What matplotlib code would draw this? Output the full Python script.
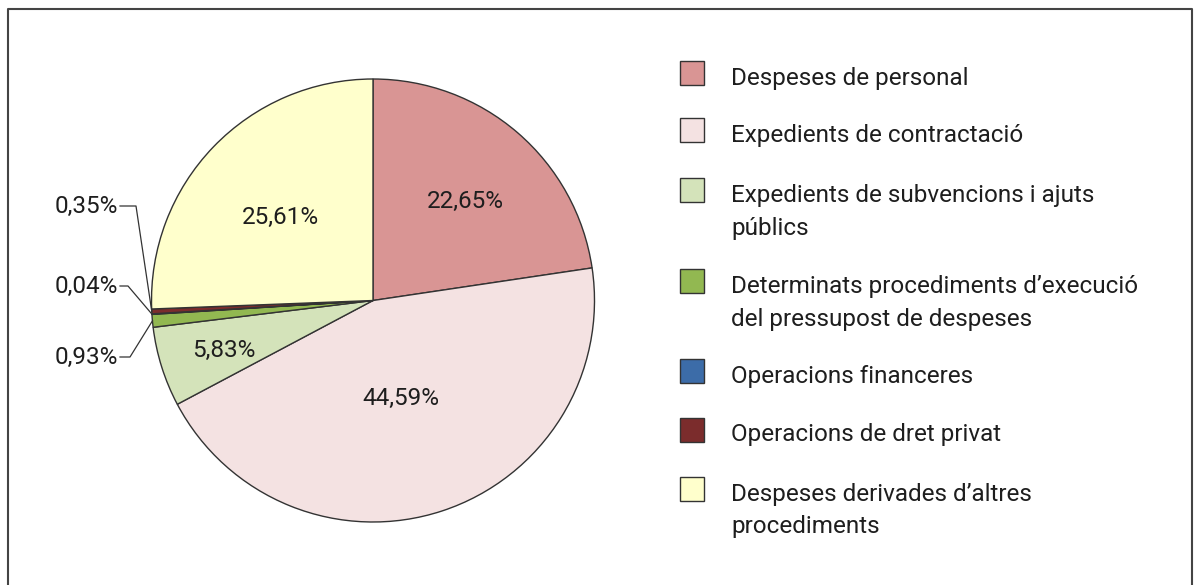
import matplotlib
matplotlib.use("Agg")
import matplotlib.pyplot as plt
from matplotlib.patches import Rectangle
from matplotlib.lines import Line2D
import numpy as np

categories = [
    "Despeses de personal",
    "Expedients de contractació",
    "Expedients de subvencions i ajuts\npúblics",
    "Determinats procediments d’execució\ndel pressupost de despeses",
    "Operacions financeres",
    "Operacions de dret privat",
    "Despeses derivades d’altres\nprocediments",
]
values = [22.65, 44.59, 5.83, 0.93, 0.04, 0.35, 25.61]
value_labels = ["22,65%", "44,59%", "5,83%", "0,93%", "0,04%", "0,35%", "25,61%"]
colors = ["#D99594", "#F4E2E2", "#D4E3BA", "#92B851", "#3C6CA8", "#7B2C2C", "#FFFFCC"]

plt.rcParams['font.family'] = ['Roboto', 'DejaVu Sans']
FS = 17.5
TXT = "#1e1e1e"
FW = 'normal'

W, H = 1200, 585
fig = plt.figure(figsize=(12, 5.85), dpi=100)
ax = fig.add_axes([0, 0, 1, 1])

cx, cy, R = 373, H - 300.5, 221.5
wedges, _ = ax.pie(values, colors=colors, startangle=90, counterclock=False,
                   center=(cx, cy), radius=R, frame=True,
                   wedgeprops=dict(edgecolor="#333333", linewidth=1.0))
ax.set_xlim(0, W)
ax.set_ylim(0, H)
ax.set_aspect('equal')
ax.axis('off')

# inside label positions (px from top-left)
inside = {0: (465, 201.5), 1: (400.5, 398), 2: (224, 350), 6: (280, 217.5)}
for i, (lx, ly) in inside.items():
    ax.text(lx, H - ly, value_labels[i], ha='center', va='center',
            fontsize=FS, color=TXT, fontweight=FW)

# outside labels with leader lines: (index, text y (px from top), elbow x)
outside = [(5, 206, 136), (4, 286, 128), (3, 357, 130)]
for i, ty, ex in outside:
    w = wedges[i]
    ang = np.deg2rad((w.theta1 + w.theta2) / 2)
    px, py = cx + R * np.cos(ang), cy + R * np.sin(ang)
    y = H - ty
    ax.add_line(Line2D([120, ex, px], [y, y, py], color="#333333", lw=0.9))
    ax.text(118, y, value_labels[i], ha='right', va='center', fontsize=FS,
            color=TXT, fontweight=FW)

# legend
leg_y = [73, 130, 190, 281, 371, 429.5, 488.5]
for c, lab, yy in zip(colors, categories, leg_y):
    ax.add_patch(Rectangle((680, H - yy - 12), 24, 24, facecolor=c,
                           edgecolor="#333333", lw=1.0))
    for k, line in enumerate(lab.split("\n")):
        ax.text(731, H - (yy + 3 + 33 * k), line, ha='left', va='center_baseline',
                fontsize=FS, color=TXT, fontweight=FW)

# frame (left, top, right)
ax.add_line(Line2D([8, 8, 1192, 1192], [0, 576, 576, 0], color="#444444", lw=1.5))

fig.savefig("out.png", dpi=100)
